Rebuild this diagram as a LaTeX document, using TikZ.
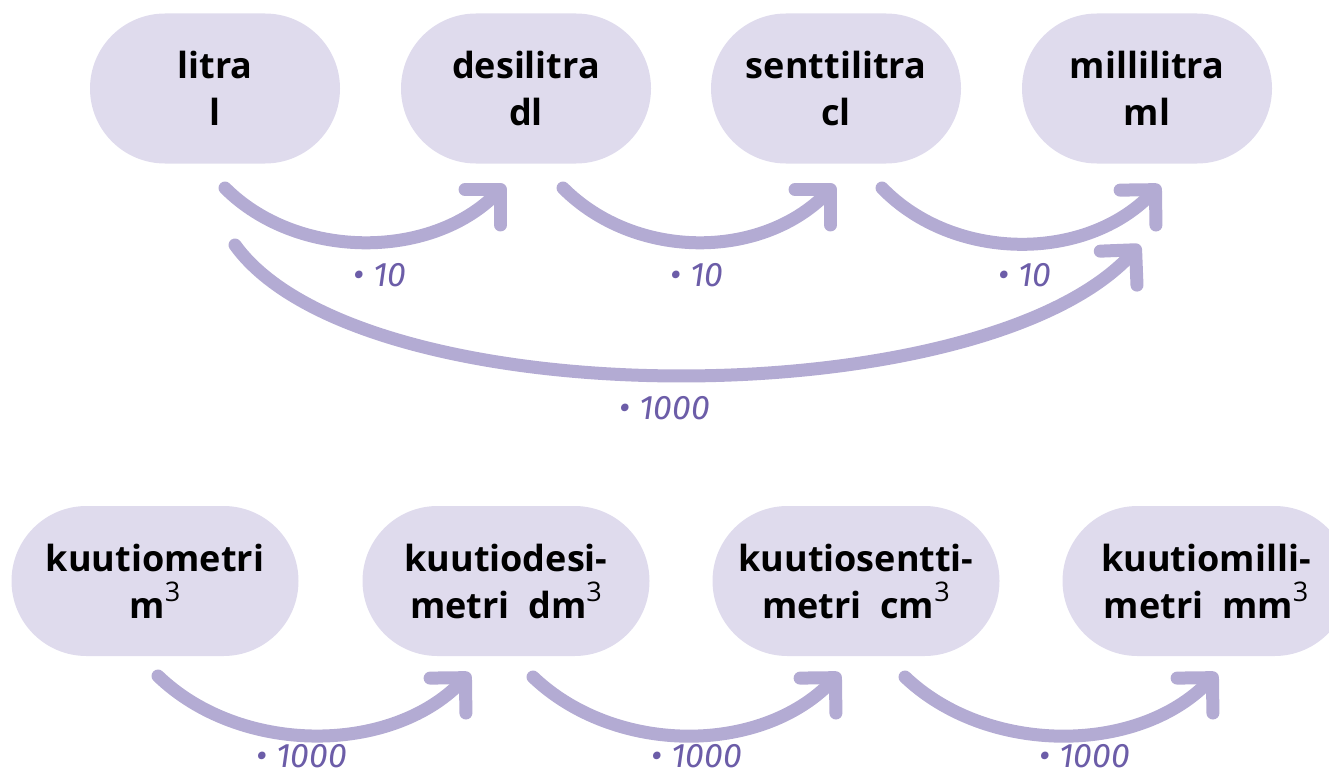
\documentclass[tikz,border=0pt]{standalone}
\usepackage{fontspec}
\setmainfont{Open Sans}
\newfontfamily\labfont{Fira Sans}
\usetikzlibrary{shapes.misc,arrows.meta}
\definecolor{pillfill}{HTML}{DFDBED}
\definecolor{arrowcol}{HTML}{B3ABD3}
\definecolor{labcol}{HTML}{6C5DA8}
\begin{document}
\begin{tikzpicture}[x=1pt,y=-1pt,
  pill/.style={rounded rectangle, fill=pillfill, draw=none, inner sep=0pt,
    minimum height=150pt, align=center, font=\fontsize{36}{47}\selectfont\bfseries},
  toppill/.style={pill, minimum width=250pt},
  botpill/.style={pill, minimum width=287pt},
  conv/.style={draw=arrowcol, line width=13pt, line cap=round,
    -{Straight Barb[length=25pt,width=50pt,round]}},
  lab/.style={text=labcol, inner sep=1pt, font=\labfont\fontsize{34}{38}\selectfont\itshape}
]
\useasboundingbox (0,0) rectangle (1329,776);
\newcommand{\cube}{\raisebox{17pt}{\fontsize{27}{27}\selectfont\mdseries 3}}
% top row
\node[toppill] (litra) at (215,88.5) {litra\\l};
\node[toppill] (dl) at (526,88.5) {desilitra\\dl};
\node[toppill] (cl) at (836,88.5) {senttilitra\\cl};
\node[toppill] (ml) at (1147,88.5) {millilitra\\ml};
% bottom row
\node[botpill] (m3) at (155,581) {kuutiometri\\m\cube};
\node[botpill] (dm3) at (506,581) {kuutiodesi-\\metri\ \ dm\cube};
\node[botpill] (cm3) at (856,581) {kuutiosentti-\\metri\ \ cm\cube};
\node[botpill] (mm3) at (1206,581) {kuutiomilli-\\metri\ \ mm\cube};
% connector ends
\coordinate (s1) at (225,188); \coordinate (e1) at (505,185);
\coordinate (s2) at (563,188); \coordinate (e2) at (835,185);
\coordinate (s3) at (882,188); \coordinate (e3) at (1160,185);
\coordinate (s4) at (235,245); \coordinate (e4) at (1140,245);
\coordinate (s5) at (158,676); \coordinate (e5) at (470,673);
\coordinate (s6) at (533,677); \coordinate (e6) at (840,673);
\coordinate (s7) at (905,677); \coordinate (e7) at (1217,673);
% connectors
\draw[conv] (s1) .. controls (297,260) and (430,260) .. (e1);
\draw[conv] (s2) .. controls (635,260) and (760,260) .. (e2);
\draw[conv] (s3) .. controls (954,262) and (1085,262) .. (e3);
\draw[conv] (s4) .. controls (360,418) and (980,418) .. (e4);
\draw[conv] (s5) .. controls (240,755) and (390,755) .. (e5);
\draw[conv] (s6) .. controls (615,755) and (760,755) .. (e6);
\draw[conv] (s7) .. controls (987,755) and (1137,755) .. (e7);
% labels
\node[lab] (l1) at (380,275) {• 10};
\node[lab] (l2) at (697,275) {• 10};
\node[lab] (l3) at (1025,275) {• 10};
\node[lab] (l4) at (665,408) {• 1000};
\node[lab] (l5) at (302,756) {• 1000};
\node[lab] (l6) at (697,756) {• 1000};
\node[lab] (l7) at (1085,756) {• 1000};
\end{tikzpicture}
\end{document}
